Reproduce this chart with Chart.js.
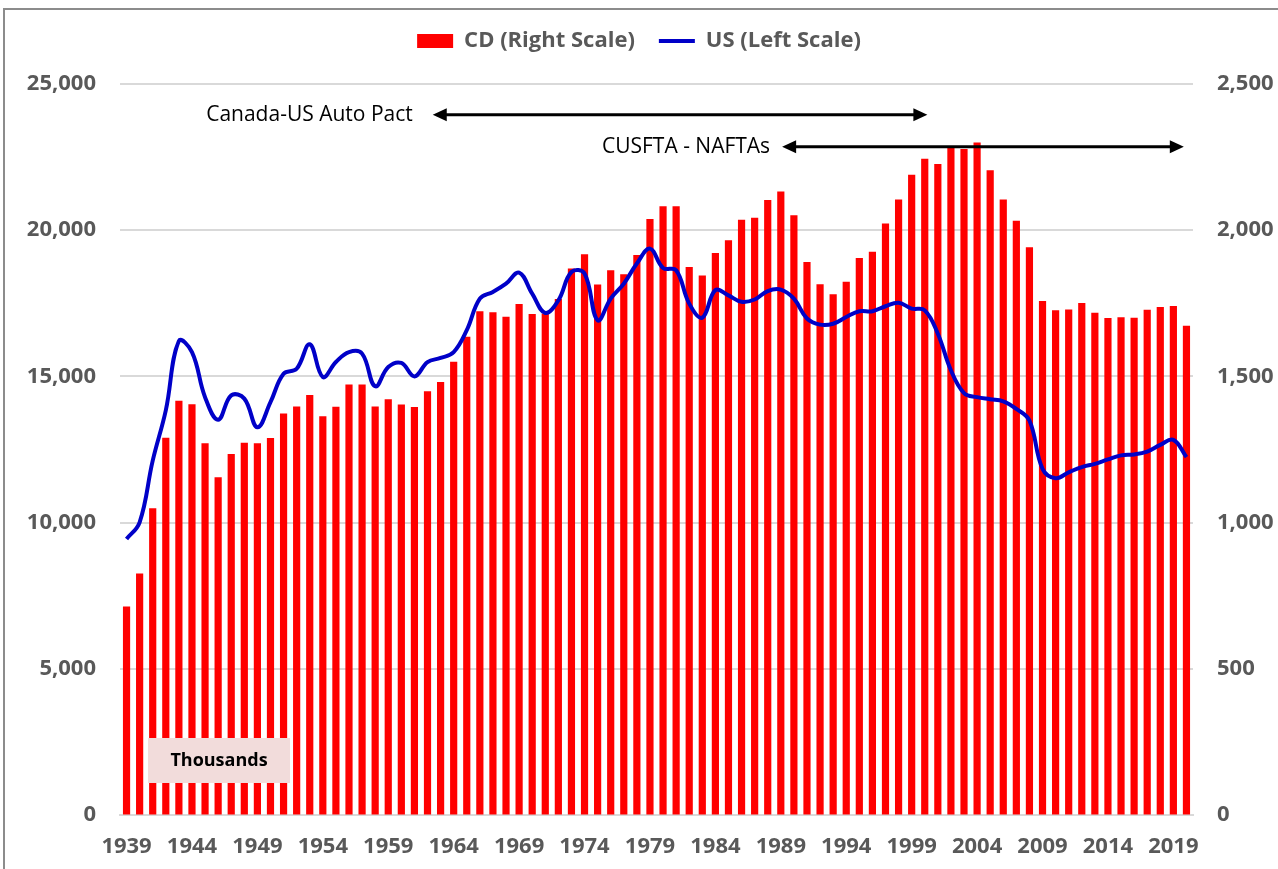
<!DOCTYPE html>
<html>
<head>
<meta charset="utf-8">
<script src="https://cdn.jsdelivr.net/npm/chart.js@4.4.1/dist/chart.umd.min.js"></script>
<style>
  html, body { margin: 0; padding: 0; background: #fff; overflow: hidden; }
  #wrap { position: relative; width: 1278px; height: 869px; }
  #frame { position: absolute; left: 3px; top: 8px; width: 1400px; height: 1000px;
           border-left: 2px solid #8c8c8c; border-top: 2px solid #8c8c8c; }
  canvas { position: absolute; left: 0; top: 0; }
</style>
</head>
<body>
<div id="wrap">
  <div id="frame"></div>
  <canvas id="chart" width="1278" height="869"></canvas>
</div>
<script>
// years 1939..2020
const years = [];
for (let y = 1939; y <= 2020; y++) years.push(String(y));

// Canadian production, thousands (right scale)
const cdValues = [
  713, 826, 1049, 1290, 1417, 1405, 1271, 1155, 1235, 1273,
  1271, 1289, 1373, 1397, 1436, 1364, 1396, 1472, 1472, 1397,
  1422, 1404, 1395, 1449, 1481, 1550, 1636, 1723, 1719, 1704,
  1748, 1713, 1715, 1765, 1869, 1918, 1814, 1863, 1849, 1915,
  2038, 2082, 2082, 1874, 1845, 1922, 1966, 2036, 2043, 2103,
  2132, 2051, 1891, 1815, 1781, 1824, 1905, 1926, 2023, 2105,
  2190, 2244, 2226, 2285, 2278, 2300, 2205, 2105, 2032, 1942,
  1758, 1726, 1729, 1751, 1718, 1700, 1702, 1701, 1728, 1737,
  1741, 1673
];

// US production, thousands (left scale)
const usValues = [
  9440, 10010, 12120, 13840, 16210, 15830, 14290, 13520, 14350, 14240,
  13260, 14120, 15090, 15260, 16100, 14980, 15490, 15830, 15780, 14660,
  15320, 15460, 15000, 15490, 15630, 15830, 16580, 17660, 17890, 18170,
  18550, 17830, 17170, 17600, 18570, 18520, 16920, 17660, 18170, 18860,
  19370, 18710, 18630, 17490, 17010, 17950, 17770, 17550, 17630, 17920,
  17970, 17660, 16980, 16770, 16800, 17030, 17230, 17230, 17400, 17520,
  17320, 17260, 16460, 15210, 14430, 14290, 14220, 14150, 13890, 13490,
  11840, 11520, 11720, 11900, 12010, 12160, 12300, 12330, 12430, 12660,
  12830, 12240
];

const leftTicks = [0, 5000, 10000, 15000, 20000, 25000];
const rightTicks = [0, 500, 1000, 1500, 2000, 2500];

// trade agreement arrows: label, start / end year, level on the left scale
const pactLabels = ["Canada-US Auto Pact", "CUSFTA - NAFTAs"];
const pactStart = [1962.4, 1989.1];
const pactEnd = [2000.2, 2019.8];
const pactLevel = [23950, 22850];

const RED = "#ff0000";
const BLUE = "#0000c8";
const GREY = "#595959";
const GRID = "#d9d9d9";

// leave room under the legend, like the excel chart
const legendGap = {
  id: "legendGap",
  beforeInit(chart) {
    const lg = chart.legend;
    if (!lg) return;
    const fit = lg.fit;
    lg.fit = function () {
      fit.call(this);
      this.height += 22;
    };
  }
};

const annotations = {
  id: "annotations",
  afterDatasetsDraw(chart) {
    const { ctx, scales } = chart;
    const xs = scales.x, ys = scales.y;
    const textGap = [20, 12];
    ctx.save();
    for (let i = 0; i < pactLabels.length; i++) {
      const x1 = xs.getPixelForValue(pactStart[i] - 1939);
      const x2 = xs.getPixelForValue(pactEnd[i] - 1939);
      const y = ys.getPixelForValue(pactLevel[i]);
      ctx.strokeStyle = "#000";
      ctx.fillStyle = "#000";
      ctx.lineWidth = 3;
      ctx.beginPath();
      ctx.moveTo(x1 + 10, y);
      ctx.lineTo(x2 - 10, y);
      ctx.stroke();
      const head = 14, half = 6.5;
      ctx.beginPath();
      ctx.moveTo(x1, y); ctx.lineTo(x1 + head, y - half); ctx.lineTo(x1 + head, y + half);
      ctx.closePath(); ctx.fill();
      ctx.beginPath();
      ctx.moveTo(x2, y); ctx.lineTo(x2 - head, y - half); ctx.lineTo(x2 - head, y + half);
      ctx.closePath(); ctx.fill();
      ctx.font = "21px 'Open Sans'";
      ctx.textAlign = "right";
      ctx.textBaseline = "middle";
      ctx.fillText(pactLabels[i], x1 - textGap[i], y);
    }
    // units box
    const a = chart.chartArea;
    const bx = a.left + 28, by = a.bottom - 77, bw = 142, bh = 45;
    ctx.fillStyle = "#f2dcdb";
    ctx.fillRect(bx, by, bw, bh);
    ctx.fillStyle = "#000";
    ctx.font = "bold 18px 'Open Sans'";
    ctx.textAlign = "center";
    ctx.fillText("Thousands", bx + bw / 2, by + bh / 2);
    ctx.restore();
  }
};

const tickFont = { family: "'Open Sans'", size: 22, weight: "bold" };

new Chart(document.getElementById("chart"), {
  type: "bar",
  data: {
    labels: years,
    datasets: [
      {
        type: "bar",
        label: "CD (Right Scale)",
        data: cdValues,
        yAxisID: "y1",
        backgroundColor: RED,
        borderWidth: 0,
        barPercentage: 0.55,
        categoryPercentage: 1.0,
        order: 1
      },
      {
        type: "line",
        label: "US (Left Scale)",
        data: usValues,
        yAxisID: "y",
        borderColor: BLUE,
        backgroundColor: BLUE,
        borderWidth: 4,
        pointRadius: 0,
        tension: 0.4,
        order: 0
      }
    ]
  },
  options: {
    responsive: false,
    animation: false,
    layout: { padding: { top: 6, right: 0, bottom: 0, left: 0 } },
    plugins: {
      tooltip: { enabled: false },
      legend: {
        position: "top",
        align: "center",
        labels: {
          usePointStyle: true,
          pointStyleWidth: 36,
          boxHeight: 14,
          padding: 24,
          color: GREY,
          font: { family: "'Open Sans'", size: 22, weight: "bold" },
          sort: (a, b) => a.datasetIndex - b.datasetIndex,
          generateLabels(chart) {
            const items = Chart.defaults.plugins.legend.labels.generateLabels(chart);
            items.forEach((it) => {
              if (it.datasetIndex === 0) {
                it.pointStyle = "rect"; it.fillStyle = RED; it.strokeStyle = RED; it.lineWidth = 0;
              } else {
                it.pointStyle = "line"; it.strokeStyle = BLUE; it.lineWidth = 4;
              }
            });
            return items;
          }
        }
      }
    },
    scales: {
      x: {
        afterFit: (s) => { s.height = 54; },
        grid: { display: false, drawTicks: false },
        border: { display: true, color: GRID, width: 2 },
        ticks: {
          autoSkip: false,
          maxRotation: 0,
          padding: 19,
          color: GREY,
          font: tickFont,
          callback: (v, i) => (i % 5 === 0 ? years[i] : "")
        }
      },
      y: {
        position: "left",
        min: 0,
        max: 25000,
        afterBuildTicks: (s) => { s.ticks = leftTicks.map((v) => ({ value: v })); },
        afterFit: (s) => { s.width = 120; },
        grid: { color: GRID, lineWidth: 2, drawTicks: false },
        border: { display: false },
        ticks: {
          padding: 24,
          color: GREY,
          font: tickFont,
          callback: (v) => v.toLocaleString("en-US")
        }
      },
      y1: {
        position: "right",
        min: 0,
        max: 2500,
        afterBuildTicks: (s) => { s.ticks = rightTicks.map((v) => ({ value: v })); },
        afterFit: (s) => { s.width = 85; },
        grid: { drawOnChartArea: false, drawTicks: false },
        border: { display: false },
        ticks: {
          padding: 24,
          color: GREY,
          font: tickFont,
          callback: (v) => v.toLocaleString("en-US")
        }
      }
    }
  },
  plugins: [legendGap, annotations]
});
</script>
</body>
</html>
